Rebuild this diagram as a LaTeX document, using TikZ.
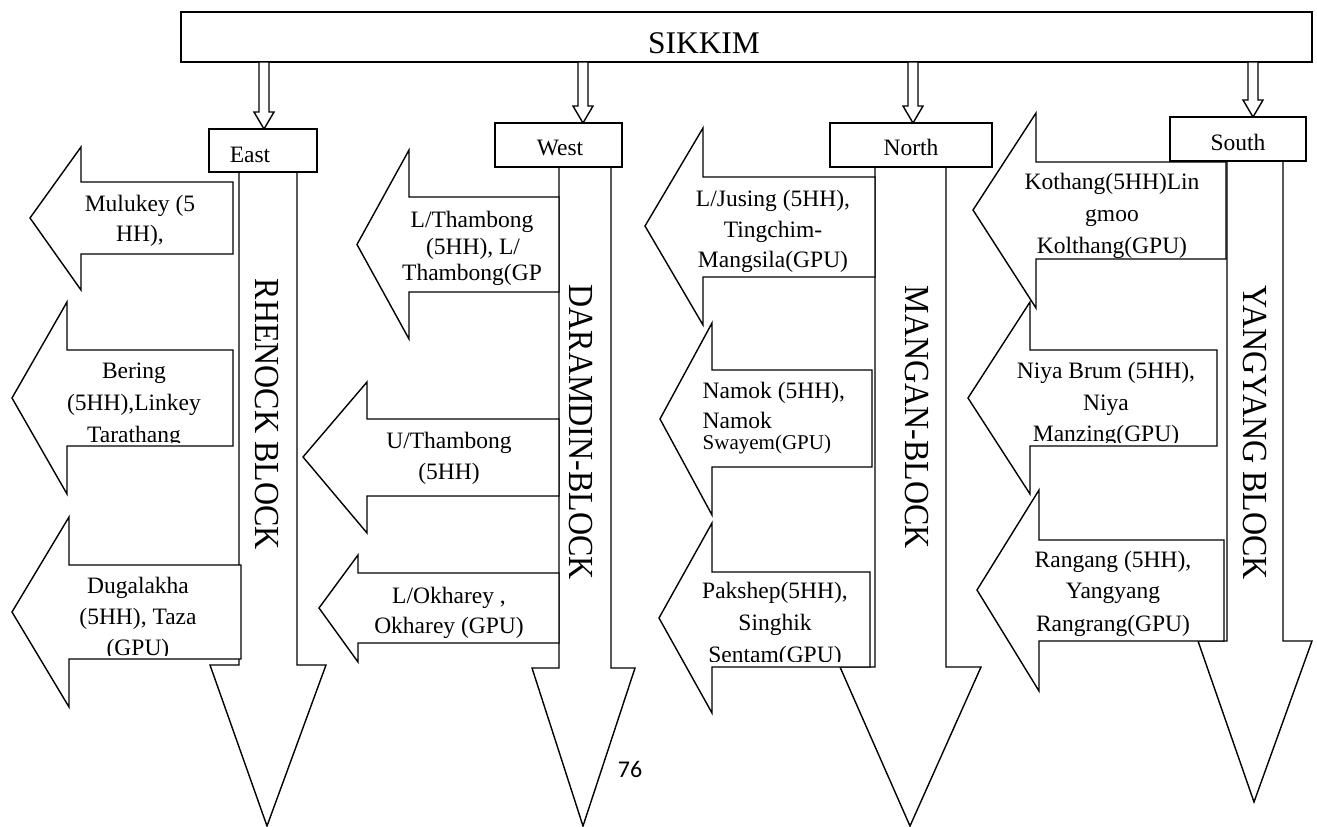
\documentclass[tikz,border=0pt]{standalone}
\usepackage{fontspec}
\setmainfont{Liberation Serif}
\newfontfamily\pagenumfont{Carlito}
\usepackage{graphicx}
\begin{document}
\begin{tikzpicture}[x=1pt,y=-1pt,line width=1.4pt,line join=miter,
  blockshape/.style={draw=black,fill=white},
  lbl/.style={inner sep=0pt,anchor=base,font=\fontsize{23.5}{28}\selectfont},
  lbll/.style={inner sep=0pt,anchor=base west,font=\fontsize{23.5}{28}\selectfont},
  blk/.style={inner sep=0pt,anchor=base west,rotate=-90,font=\fontsize{32}{32}\selectfont}]
\useasboundingbox (0,0) rectangle (1317,827);

% top box
\draw[blockshape] (181,12) rectangle (1312,62);
\node[inner sep=0pt,anchor=base,font=\fontsize{31.5}{32}\selectfont] (sikkim) at (704,53) {SIKKIM};

% small hollow arrows
\draw[blockshape] (259,62) -- (259,112) -- (254,112) -- (264,129) -- (274,112) -- (269,112) -- (269,62) -- cycle;
\draw[blockshape] (578,62) -- (578,106) -- (573,106) -- (583,123) -- (593,106) -- (588,106) -- (588,62) -- cycle;
\draw[blockshape] (908,62) -- (908,106) -- (903,106) -- (913,123) -- (923,106) -- (918,106) -- (918,62) -- cycle;
\draw[blockshape] (1248,62) -- (1248,100) -- (1243,100) -- (1253,117) -- (1263,100) -- (1258,100) -- (1258,62) -- cycle;

% big down arrows
\draw[blockshape] (239,172) -- (239,665) -- (210,665) -- (267,826) -- (326,665) -- (297,665) -- (297,172) -- cycle;
\draw[blockshape] (559,167) -- (559,668) -- (532,668) -- (583,826) -- (635,668) -- (611,668) -- (611,167) -- cycle;
\draw[blockshape] (875,167) -- (875,667) -- (840,667) -- (910,826) -- (981,667) -- (946,667) -- (946,167) -- cycle;
\draw[blockshape] (1227,161) -- (1227,641) -- (1198,641) -- (1254,802) -- (1312,641) -- (1283,641) -- (1283,161) -- cycle;

% region boxes
\draw[blockshape] (209,129) rectangle (317,172);
\draw[blockshape] (495,123) rectangle (622,167);
\draw[blockshape] (830,123) rectangle (992,167);
\draw[blockshape] (1170,117) rectangle (1306,161);
\node[lbl] (east) at (250,162) {East};
\node[lbl] (west) at (560,155) {West};
\node[lbl] (north) at (911,155) {North};
\node[lbl] (south) at (1238,150) {South};

% block labels
\node[blk] (rhenock) at (255,278) {\scalebox{1}[1.1]{RHENOCK BLOCK}};
\node[blk] (daramdin) at (569,284) {\scalebox{1}[1.1]{DARAMDIN-BLOCK}};
\node[blk] (mangan) at (905,285) {\scalebox{1}[1.1]{MANGAN-BLOCK}};
\node[blk] (yangyang) at (1243,285) {\scalebox{1}[1.1]{YANGYANG BLOCK}};

% ---------- East left arrows
\draw[blockshape] (233,182) -- (81,182) -- (81,147) -- (30,218) -- (81,290) -- (81,254) -- (233,254) -- cycle;
\begin{scope}
\clip (60,182) rectangle (233,250);
\node[lbl] (e1a) at (140,211) {Mulukey (5};
\node[lbl] (e1b) at (140,241) {HH),};
\end{scope}
\draw[blockshape] (233,350) -- (67,350) -- (67,302) -- (12,398) -- (67,494) -- (67,446) -- (233,446) -- cycle;
\begin{scope}
\clip (47,350) rectangle (233,442);
\node[lbl] (e2a) at (134,378) {Bering};
\node[lbl] (e2b) at (134,410) {(5HH),Linkey};
\node[lbl] (e2c) at (134,442) {Tarathang};
\end{scope}
\draw[blockshape] (241,565) -- (69,565) -- (69,517) -- (12,612) -- (69,707) -- (69,659) -- (241,659) -- cycle;
\begin{scope}
\clip (49,565) rectangle (241,655);
\node[lbl] (e3a) at (138,593) {Dugalakha};
\node[lbl] (e3b) at (138,624) {(5HH), Taza};
\node[lbl] (e3c) at (138,655) {(GPU)};
\end{scope}

% ---------- West left arrows
\draw[blockshape] (559,197) -- (409,197) -- (409,150) -- (357,244.5) -- (409,339) -- (409,292) -- (559,292) -- cycle;
\begin{scope}
\clip (389,197) rectangle (559,288);
\node[lbl] (w1a) at (472,227) {L/Thambong};
\node[lbl] (w1b) at (473,254) {(5HH), L/};
\node[lbl] (w1c) at (472,280) {Thambong(GP};
\end{scope}
\draw[blockshape] (559,419) -- (367,419) -- (367,382) -- (303,457) -- (367,533) -- (367,496) -- (559,496) -- cycle;
\node[lbl] (w2a) at (449,448) {U/Thambong};
\node[lbl] (w2b) at (449,479) {(5HH)};
\draw[blockshape] (559,573) -- (358,573) -- (358,555) -- (319,608) -- (358,662) -- (358,643) -- (559,643) -- cycle;
\begin{scope}
\clip (338,573) rectangle (559,639);
\node[lbl] (w3a) at (449,603) {L/Okharey ,};
\node[lbl] (w3b) at (449,633) {Okharey (GPU)};
\end{scope}

% ---------- North left arrows
\draw[blockshape] (875,177) -- (703,177) -- (703,128) -- (645,226) -- (703,325) -- (703,277) -- (875,277) -- cycle;
\node[lbl] (n1a) at (773,206) {L/Jusing (5HH),};
\node[lbl] (n1b) at (773,237) {Tingchim-};
\node[lbl] (n1c) at (773,267) {Mangsila(GPU)};
\draw[blockshape] (872,370) -- (712,370) -- (712,323) -- (660,419) -- (712,515) -- (712,467) -- (872,467) -- cycle;
\node[lbll] (n2a) at (702,398) {Namok (5HH),};
\node[lbll] (n2b) at (702,428) {Namok};
\node[lbll,font=\fontsize{21}{24}\selectfont] (n2c) at (702,449) {Swayem(GPU)};
\draw[blockshape] (870,572) -- (712,572) -- (712,523) -- (659,618) -- (712,713) -- (712,667) -- (870,667) -- cycle;
\begin{scope}
\clip (692,572) rectangle (870,661);
\node[lbl] (n3a) at (775,598) {Pakshep(5HH),};
\node[lbl] (n3b) at (775,630) {Singhik};
\node[lbl] (n3c) at (775,662) {Sentam(GPU)};
\end{scope}

% ---------- South left arrows
\draw[blockshape] (1226,162) -- (1036,162) -- (1036,113) -- (973,210) -- (1036,308) -- (1036,259) -- (1226,259) -- cycle;
\node[lbl] (s1a) at (1112,189) {Kothang(5HH)Lin};
\node[lbl] (s1b) at (1112,221) {gmoo};
\node[lbl] (s1c) at (1112,253) {Kolthang(GPU)};
\draw[blockshape] (1217,350) -- (1030,350) -- (1030,302) -- (968,398) -- (1030,494) -- (1030,446) -- (1217,446) -- cycle;
\begin{scope}
\clip (1010,350) rectangle (1217,442);
\node[lbl] (s2a) at (1106,378) {Niya Brum (5HH),};
\node[lbl] (s2b) at (1106,410) {Niya};
\node[lbl] (s2c) at (1106,441) {Manzing(GPU)};
\end{scope}
\draw[blockshape] (1224,540) -- (1039,540) -- (1039,490) -- (977,590) -- (1039,691) -- (1039,641) -- (1224,641) -- cycle;
\node[lbl] (s3a) at (1113,567) {Rangang (5HH),};
\node[lbl] (s3b) at (1113,598) {Yangyang};
\node[lbl] (s3c) at (1113,631) {Rangrang(GPU)};

% page number
\node[inner sep=0pt,anchor=base,font=\pagenumfont\fontsize{24}{26}\selectfont] (pagenum) at (630,777) {76};
\end{tikzpicture}
\end{document}
